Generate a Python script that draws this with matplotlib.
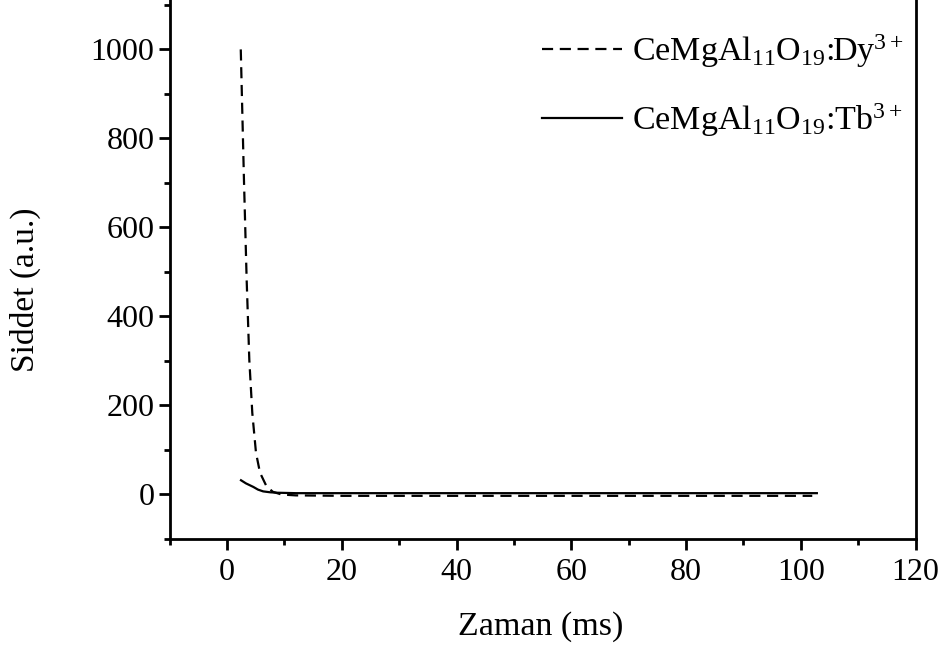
import matplotlib
matplotlib.use("Agg")
from matplotlib import pyplot as plt
from matplotlib.ticker import MultipleLocator

# Values
t_dy = [2.4, 2.96, 3.43, 3.89, 4.41, 5.05, 5.75, 6.9, 8.0, 9.5, 12, 20, 40, 60, 80, 102]
i_dy = [1000, 705, 481, 302, 183, 94, 49, 18, 6, 0, -2, -3, -3, -3, -3, -3]
t_tb = [2.44, 3.3, 4.59, 5.4, 6.3, 7.5, 8.7, 12, 20, 40, 60, 80, 102.8]
i_tb = [32, 25, 17, 11, 7, 5, 4, 3, 3, 3, 3, 3, 3]

label_dy = r"CeMgAl$_{\mathrm{11}}$O$_{\mathrm{19}}$:Dy$^{\mathrm{3+}}$"
label_tb = r"CeMgAl$_{\mathrm{11}}$O$_{\mathrm{19}}$:Tb$^{\mathrm{3+}}$"

plt.rcParams["font.family"] = ["Liberation Serif", "DejaVu Serif"]
plt.rcParams["mathtext.fontset"] = "custom"
plt.rcParams["mathtext.rm"] = "Liberation Serif"
plt.rcParams["mathtext.it"] = "Liberation Serif:italic"

fig = plt.figure(figsize=(9.46, 6.52), dpi=100)
ax = fig.add_axes([0.1793, 0.1733, 0.7885, 0.8267])

ax.plot(t_dy, i_dy, color="black", lw=1.6, linestyle=(0, (5, 3)), label=label_dy)
ax.plot(t_tb, i_tb, color="black", lw=1.6, label=label_tb)

ax.set_xlim(-10, 120)
ax.set_ylim(-100, 1111)
ax.xaxis.set_major_locator(MultipleLocator(20))
ax.xaxis.set_minor_locator(MultipleLocator(10))
ax.yaxis.set_major_locator(MultipleLocator(200))
ax.yaxis.set_minor_locator(MultipleLocator(100))
ax.set_yticks(range(0, 1001, 200))

ax.spines["top"].set_visible(False)
for s in ("left", "right", "bottom"):
    ax.spines[s].set_linewidth(2)
ax.tick_params(which="major", direction="out", length=8, width=2, labelsize=23, pad=6)
ax.tick_params(axis="y", which="major", pad=3)
ax.tick_params(which="minor", direction="out", length=4, width=2)
ax.tick_params(top=False, right=False, which="both")

ax.set_xlabel("Zaman (ms)", fontsize=24.5, va="center")
ax.xaxis.set_label_coords(0.498, -0.163)
ax.set_ylabel("Siddet (a.u.)", fontsize=24, va="center")
ax.yaxis.set_label_coords(-0.194, 0.462)

leg = ax.legend(loc="upper left", bbox_to_anchor=(0.499, 0.94), frameon=False,
                fontsize=24.5, handlelength=2.35, handletextpad=0.3,
                labelspacing=0.92, borderpad=0, borderaxespad=0)

fig.savefig("out.png", dpi=100)
